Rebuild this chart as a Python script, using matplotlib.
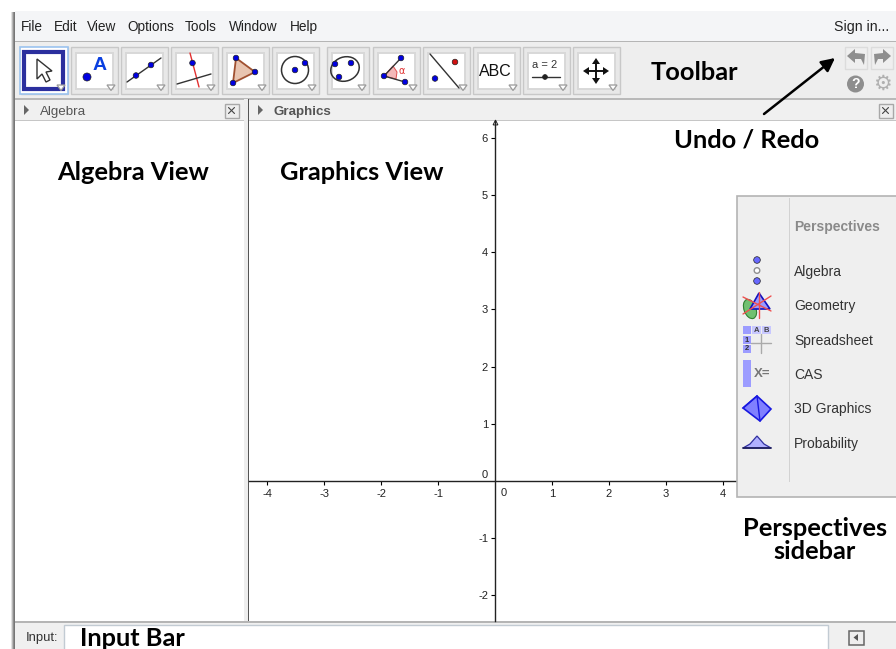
#!/usr/bin/env python3
"""GeoGebra Classic window with its labelled parts."""

import matplotlib
matplotlib.use("Agg")
import matplotlib.pyplot as plt
from matplotlib.patches import Rectangle, Polygon, Circle, Ellipse

plt.rcParams["axes.unicode_minus"] = False

W, H = 896, 649

menu_items = ["File", "Edit", "View", "Options", "Tools", "Window", "Help"]
menu_x = [21, 54, 87, 127, 185, 229, 290]
x_ticks = [-4, -3, -2, -1, 1, 2, 3, 4]
y_ticks = [-2, -1, 1, 2, 3, 4, 5, 6]
perspectives = ["Algebra", "Geometry", "Spreadsheet", "CAS", "3D Graphics", "Probability"]
perspective_y = [271, 305, 340, 374, 408, 443]
callouts = [("Toolbar", 694, 72), ("Undo / Redo", 747, 140), ("Algebra View", 133, 172),
            ("Graphics View", 362, 172), ("Perspectives\nsidebar", 815, 540),
            ("Input Bar", 132, 639)]
tool_x = [20, 70, 120, 170, 221, 271, 326, 372, 422, 472, 522, 572]
tool_w = [47, 47, 47, 47, 47, 47, 42, 47, 47, 47, 47, 47]

UI = "Liberation Sans"
BLUE = "#0000e0"
GREY = "#c8c8c8"

fig = plt.figure(figsize=(W / 100, H / 100), dpi=100, facecolor="white")


def pixel_axes(z):
    ax = fig.add_axes([0, 0, 1, 1], zorder=z)
    ax.set_xlim(0, W)
    ax.set_ylim(H, 0)
    ax.axis("off")
    ax.patch.set_alpha(0)
    return ax


back = pixel_axes(1)
front = pixel_axes(3)


def box(ax, x, y, w, h, fc, ec="none", lw=0.0, z=1):
    ax.add_patch(Rectangle((x, y), w, h, facecolor=fc, edgecolor=ec, linewidth=lw, zorder=z))


def dot(ax, x, y, r=3.4, c=BLUE, z=6):
    ax.add_patch(Circle((x, y), r, facecolor=c, edgecolor="#222222", linewidth=0.5, zorder=z))


def seg(ax, xs, ys, c="#333333", lw=1.0, z=5):
    ax.plot(xs, ys, color=c, lw=lw, zorder=z, solid_capstyle="round")


# window chrome, soft shadow on the left
for x, shade in [(11, "#e2e2e2"), (12, "#b8b8b8"), (13, "#8e8e8e"), (14, "#767676")]:
    box(back, x, 12, 1, H - 12, shade)
box(back, 15, 11, W - 15, 30, "#f4f5f7")
box(back, 15, 41, W - 15, 1, "#b5b5b5")
box(back, 15, 42, W - 15, 56, "#eeeeee")
box(back, 15, 98, W - 15, 1.5, "#b9b9b9")
box(back, 15, 99.5, W - 15, 20.5, "#f0f0f0")
box(back, 15, 120, W - 15, 1.5, "#c6c6c6")
box(back, 15, 121, W - 15, 500, "white")
box(back, 244, 99, 4, 522, "#eeeeee")
box(back, 248, 99, 1, 522, "#555555")
box(back, 15, 621, W - 15, 1.5, "#b5b5b5")
box(back, 15, 622.5, W - 15, 27, "#f0f0f0")
box(back, 63.5, 625, 764, 30, "white", ec="#c2cbd3", lw=1)

for name, x in zip(menu_items, menu_x):
    back.text(x, 27, name, family=UI, fontsize=9.8, color="#222222", va="center")
back.text(889, 27, "Sign in...", family=UI, fontsize=10.2, color="#222222", va="center", ha="right")

# tool buttons
for i, (x, w) in enumerate(zip(tool_x, tool_w)):
    box(back, x + 0.5, 46.5, w, 47, "#e8e8e8", ec=GREY, lw=1, z=2)
    box(back, x + 5.5, 52.5, w - 10, 36, "white", ec="#d8d8d8", lw=1.4, z=3)
    if i == 0:
        box(back, x - 0.5, 46.5, w + 1, 47, "white", ec="#9cc4f0", lw=1.2, z=3)
        box(back, x + 4, 51.5, w - 8, 37, "white", ec="#2b2f9e", lw=3, z=4)
    back.add_patch(Polygon([(x + w - 10, 85), (x + w - 2, 85), (x + w - 6, 90.5)], facecolor="white",
                           edgecolor="#9a9a9a", linewidth=0.9, zorder=7))

# select arrow
back.add_patch(Polygon([(37, 59), (37, 79), (42, 74), (46, 82), (50, 80), (46, 72), (52, 71)],
                       facecolor="white", edgecolor="#333333", linewidth=1, zorder=5))
# point
dot(back, 87, 77, 4)
back.text(100, 65, "A", family=UI, fontsize=14, fontweight="bold", color="#0a3fe0", ha="center", va="center", zorder=5)
# line
seg(back, [127, 161], [82, 58])
dot(back, 136, 75.5, 2.8)
dot(back, 151, 65, 2.8)
# perpendicular
seg(back, [190, 199], [53, 87], c="#e23030")
seg(back, [177, 211], [84, 74])
dot(back, 192.5, 63, 2.8)
# polygon
back.add_patch(Polygon([(236, 58), (255, 72), (233, 83)], facecolor="#e8c4b0", edgecolor="#a05030", linewidth=1.3, zorder=5))
for px, py in [(236, 58), (255, 72), (233, 83)]:
    dot(back, px, py, 2.8)
# circle with centre
back.add_patch(Circle((295, 70), 13.5, fill=False, edgecolor="#333333", linewidth=1.1, zorder=5))
dot(back, 295, 70, 2.8)
dot(back, 305, 63, 2.8)
# conic
back.add_patch(Ellipse((345, 69), 29, 24, angle=-20, fill=False, edgecolor="#333333", linewidth=1.1, zorder=5))
for px, py in [(335, 64), (351, 63), (339, 77)]:
    dot(back, px, py, 2.8)
# angle
seg(back, [384, 401], [76, 58])
seg(back, [384, 405], [76, 82])
back.add_patch(Polygon([(384, 76), (393, 66), (397, 72), (396, 79)], facecolor="#f4b8b8", edgecolor="#e05050", linewidth=0.7, zorder=4))
back.text(402, 71, "α", family="DejaVu Sans", fontsize=7, color="#e03030", ha="center", va="center", zorder=6)
for px, py in [(384, 76), (401, 58), (405, 82)]:
    dot(back, px, py, 2.8)
# reflect about line
seg(back, [430, 459], [54, 88])
dot(back, 435, 78.5, 2.8)
dot(back, 455, 62, 2.8, c="#d01010")
# text and slider
back.text(495, 71, "ABC", family=UI, fontsize=11.5, color="#111111", ha="center", va="center", zorder=5)
back.text(545, 65, "a = 2", family=UI, fontsize=8, color="#333333", ha="center", va="center", zorder=5)
seg(back, [532, 560], [77, 77])
dot(back, 545, 77, 2.4, c="#222222")
# move view
seg(back, [596, 596], [61, 81], c="#111111", lw=1.4)
seg(back, [586, 606], [71, 71], c="#111111", lw=1.4)
for pts in ([(596, 58), (592, 64), (600, 64)], [(596, 84), (592, 78), (600, 78)],
            [(583, 71), (589, 67), (589, 75)], [(609, 71), (603, 67), (603, 75)]):
    back.add_patch(Polygon(pts, facecolor="#111111", edgecolor="none", zorder=6))

# undo / redo and friends
box(back, 844.5, 46.5, 22, 22, "#efefef", ec="#dcdcdc", lw=1, z=2)
box(back, 870.5, 46.5, 22, 22, "#efefef", ec="#dcdcdc", lw=1, z=2)
back.add_patch(Polygon([(847, 56), (855, 49), (855, 53), (865, 54), (864, 65), (861, 59), (855, 59), (855, 63)],
                       facecolor="#8e8e8e", zorder=5))
back.add_patch(Polygon([(891, 56), (883, 49), (883, 53), (874, 54), (875, 65), (878, 59), (883, 59), (883, 63)],
                       facecolor="#8e8e8e", zorder=5))
back.add_patch(Circle((855.5, 84), 8.5, facecolor="#8e8e8e", zorder=5))
back.text(855.5, 84, "?", family=UI, fontsize=10, fontweight="bold", color="white", ha="center", va="center", zorder=6)
back.text(882, 84, "⚙", family="DejaVu Sans", fontsize=15, color="#b0b0b0", ha="center", va="center", zorder=6)

# view headers
for x, label, weight, col in [(27, "Algebra", "normal", "#555555"), (261, "Graphics", "bold", "#555555")]:
    back.add_patch(Polygon([(x - 3, 105), (x - 3, 115), (x + 2, 110)], facecolor="#666666", zorder=5))
    back.text(x + 13, 111.5, label, family=UI, fontsize=9.6, fontweight=weight, color=col, va="center", zorder=5)
for x in (225, 879):
    box(back, x - 0.5, 103.5, 14, 14, "#eeeeee", ec="#a8a8a8", lw=1, z=4)
    seg(back, [x + 3.5, x + 9.5], [107.5, 113.5], c="#444444", lw=0.8)
    seg(back, [x + 3.5, x + 9.5], [113.5, 107.5], c="#444444", lw=0.8)

# graphics view, real axes
gx = fig.add_axes([249 / W, (H - 621) / H, 647 / W, 500 / H], zorder=2)
gx.patch.set_alpha(0)
gx.set_xlim((249 - 495) / 57, (896 - 495) / 57)
gx.set_ylim((481 - 621) / 57.2, (481 - 121) / 57.2)
for side in ("top", "right"):
    gx.spines[side].set_visible(False)
gx.spines["left"].set_position(("data", 0))
gx.spines["bottom"].set_position(("data", 0))
for side in ("left", "bottom"):
    gx.spines[side].set_linewidth(1.0)
    gx.spines[side].set_color("#222222")
gx.set_xticks(x_ticks)
gx.set_yticks(y_ticks)
gx.tick_params(axis="x", direction="out", length=3, width=0.8, labelsize=8, pad=3, labelcolor="#222222")
gx.tick_params(axis="y", direction="out", length=3, width=0.8, labelsize=8, pad=2, labelcolor="#222222")
gx.text(0.15, -0.21, "0", fontsize=8, family=UI, color="#222222", ha="center", va="center")
gx.text(-0.18, 0.1, "0", fontsize=8, family=UI, color="#222222", ha="center", va="center")
gx.plot([0], [6.27], marker="^", ms=3.5, mfc="none", mec="#222222", mew=0.7, clip_on=False)
for lab in gx.get_xticklabels() + gx.get_yticklabels():
    lab.set_family(UI)

# perspectives sidebar
box(front, 737, 196, 160, 300.5, "#efefef", ec="#b4b4b4", lw=1.2)
box(front, 789, 198, 1, 284, "#d2d2d2", z=2)
front.text(794, 227.5, "Perspectives", family=UI, fontsize=10, fontweight="bold", color="#8a8a8a", va="center", zorder=3)
for name, y in zip(perspectives, perspective_y):
    front.text(794, y + 1, name, family=UI, fontsize=10, color="#333333", va="center", zorder=3)

PB = "#6868ff"
LB = "#9c9cff"
dot(front, 757, 260, 3.3, c=PB)
front.add_patch(Circle((757, 270.5), 2.8, facecolor="white", edgecolor="#909090", linewidth=1, zorder=6))
dot(front, 757, 281, 3.3, c=PB)
front.add_patch(Ellipse((750, 309), 12, 20, angle=-20, facecolor="#70c070", edgecolor="#308030", linewidth=0.8, zorder=4))
front.add_patch(Polygon([(759, 293), (770, 309), (750, 309)], facecolor="#9a9aff", edgecolor="#1010c0", linewidth=1.2, zorder=5))
seg(front, [743, 771], [314, 296], c="#f05050")
seg(front, [743, 771], [297, 311], c="#f05050")
seg(front, [759, 759], [292, 318], c="#f05050")
box(front, 743, 326, 8, 8, LB, z=4)
box(front, 743, 336, 8, 8, LB, z=4)
box(front, 743, 345, 8, 8, LB, z=4)
box(front, 752, 326, 9, 8, "#c8c8ff", z=4)
box(front, 762, 326, 9, 8, "#c8c8ff", z=4)
front.text(756.5, 330, "A", family=UI, fontsize=5.5, fontweight="bold", color="#444444", ha="center", va="center", zorder=5)
front.text(766.5, 330, "B", family=UI, fontsize=5.5, fontweight="bold", color="#444444", ha="center", va="center", zorder=5)
front.text(747, 340, "1", family=UI, fontsize=5.5, fontweight="bold", color="#333333", ha="center", va="center", zorder=5)
front.text(747, 349, "2", family=UI, fontsize=5.5, fontweight="bold", color="#333333", ha="center", va="center", zorder=5)
seg(front, [761, 761], [334, 353], c="#aaaaaa")
seg(front, [751, 771], [343, 343], c="#aaaaaa")
box(front, 743, 360, 8, 27, LB, z=4)
front.text(762, 374, "X=", family=UI, fontsize=9.5, fontweight="bold", color="#777777", ha="center", va="center", zorder=5)
front.add_patch(Polygon([(757, 396), (771, 409), (760, 421), (743, 408)], facecolor="#8080ff", edgecolor="#1818e0", linewidth=1.2, zorder=4))
seg(front, [757, 760], [396, 421], c="#1818e0")
seg(front, [757, 743], [396, 408], c="#1818e0")
front.add_patch(Polygon([(743, 448), (750, 444), (757, 436), (764, 444), (771, 448)], facecolor="#b0b0ff", edgecolor="#3030a0", linewidth=0.9, zorder=4))
seg(front, [743, 771], [448, 448], c="#202060", lw=1.3)

# input bar
front.text(26, 638, "Input:", family=UI, fontsize=9.4, color="#333333", va="center")
box(front, 848.5, 630.5, 15, 14, "#eeeeee", ec="#666666", lw=1.1)
front.add_patch(Polygon([(858, 634), (858, 641), (853.5, 637.5)], facecolor="#555555", zorder=5))

# callouts
for text, x, y in callouts:
    front.text(x, y, text, family="Lato", fontsize=18.3, fontweight="bold", color="black",
               ha="center", va="center", zorder=8, linespacing=1.02)
front.annotate("", xy=(835, 58), xytext=(764, 114),
               arrowprops=dict(arrowstyle="-|>", color="black", lw=1.8, mutation_scale=20, shrinkA=0, shrinkB=0),
               zorder=8)

fig.savefig("out.png", dpi=100, facecolor="white")
